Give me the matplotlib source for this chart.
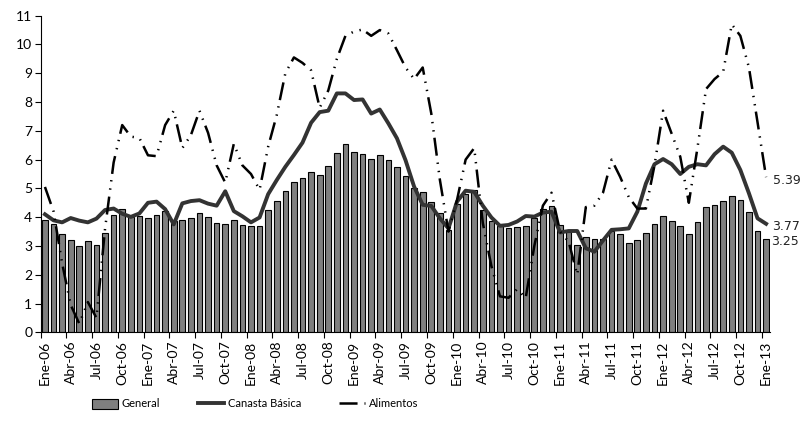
import numpy as np
import matplotlib
matplotlib.use("Agg")
import matplotlib.pyplot as plt
from matplotlib.patches import Patch
from matplotlib.lines import Line2D

plt.rcParams['font.family'] = ['Lato', 'DejaVu Sans']
plt.rcParams['lines.scale_dashes'] = False

# Monthly series, Ene-06 .. Ene-13 (85 months)
general = [3.90, 3.75, 3.40, 3.21, 3.00, 3.16, 3.03, 3.44, 4.07, 4.28,
           4.02, 4.04, 3.96, 4.07, 4.20, 3.85, 3.91, 3.96, 4.13, 3.99,
           3.80, 3.75, 3.90, 3.74, 3.69, 3.69, 4.25, 4.55, 4.92, 5.21,
           5.37, 5.56, 5.47, 5.78, 6.23, 6.53, 6.27, 6.19, 6.02, 6.15,
           5.97, 5.73, 5.43, 5.02, 4.88, 4.51, 4.13, 3.55, 4.46, 4.79,
           4.94, 4.25, 3.87, 3.68, 3.61, 3.65, 3.69, 3.96, 4.27, 4.39,
           3.73, 3.50, 3.02, 3.32, 3.23, 3.23, 3.53, 3.40, 3.11, 3.21,
           3.44, 3.78, 4.04, 3.87, 3.69, 3.40, 3.82, 4.34, 4.41, 4.55,
           4.75, 4.58, 4.17, 3.53, 3.25]

canasta = [4.10, 3.89, 3.82, 3.97, 3.88, 3.82, 3.95, 4.25, 4.30, 4.12,
           4.01, 4.13, 4.50, 4.54, 4.28, 3.75, 4.48, 4.56, 4.59, 4.47,
           4.40, 4.90, 4.21, 4.03, 3.82, 3.99, 4.80, 5.29, 5.75, 6.16,
           6.59, 7.28, 7.65, 7.70, 8.30, 8.30, 8.07, 8.09, 7.60, 7.74,
           7.26, 6.74, 5.98, 5.06, 4.43, 4.39, 3.96, 3.61, 4.54, 4.92,
           4.88, 4.40, 3.99, 3.70, 3.73, 3.85, 4.04, 4.02, 4.16, 4.19,
           3.47, 3.52, 3.52, 2.92, 2.80, 3.19, 3.56, 3.58, 3.61, 4.19,
           5.17, 5.84, 6.02, 5.84, 5.50, 5.75, 5.84, 5.80, 6.19, 6.45,
           6.24, 5.64, 4.83, 3.96, 3.77]

alimentos = [5.05, 4.20, 2.40, 0.95, 0.30, 1.05, 0.50, 3.60, 5.90, 7.20,
             6.80, 6.75, 6.15, 6.12, 7.20, 7.70, 6.40, 6.85, 7.70, 6.93,
             5.80, 5.20, 6.55, 5.80, 5.50, 4.95, 6.45, 7.55, 9.00, 9.55,
             9.36, 9.10, 7.80, 8.40, 9.50, 10.30, 10.45, 10.52, 10.30, 10.50,
             10.38, 9.80, 9.20, 8.80, 9.20, 7.60, 5.30, 3.50, 4.60, 6.00,
             6.40, 3.80, 2.30, 1.25, 1.20, 1.50, 1.20, 3.00, 4.40, 4.85,
             3.50, 3.15, 2.00, 4.35, 4.40, 4.85, 6.00, 5.40, 4.70, 4.30,
             4.30, 5.80, 7.70, 6.90, 6.10, 4.50, 6.40, 8.45, 8.80, 9.05,
             10.70, 10.30, 9.20, 7.30, 5.39]

meses = ['Ene', 'Feb', 'Mar', 'Abr', 'May', 'Jun', 'Jul', 'Ago', 'Sep', 'Oct', 'Nov', 'Dic']
etiquetas = [f"{meses[i % 12]}-{6 + i // 12:02d}" for i in range(len(general))]

x = np.arange(len(general))

fig = plt.figure(figsize=(8.02, 4.23), dpi=100)
ax = fig.add_axes([0.0507, 0.2144, 0.9099, 0.7485])

ax.bar(x, general, width=0.66, color='#7f7f7f', edgecolor='black', linewidth=0.8,
       label='General', zorder=2)
ax.plot(x, canasta, color='#333333', linewidth=2.8, label='Canasta Básica', zorder=3)
ax.plot(x, alimentos, color='black', linewidth=1.8,
        linestyle=(0, (13, 5, 1, 5, 1, 4.5)), dash_capstyle='butt',
        label='Alimentos', zorder=4)

ax.set_xlim(-0.5, len(general) - 0.5)
ax.set_ylim(0, 11)
ax.set_yticks(range(0, 12))
ax.tick_params(axis='y', labelsize=10, length=4, width=0.8, direction='out', pad=2)

ax.set_xticks(x[::3])
ax.set_xticklabels(etiquetas[::3], rotation=90, fontsize=10)
ax.set_xticks(np.arange(-0.5, len(general), 3), minor=True)
ax.tick_params(axis='x', which='major', length=0, pad=6)
ax.tick_params(axis='x', which='minor', length=4, width=0.8, direction='out')

for s in ['top', 'right']:
    ax.spines[s].set_visible(False)
for s in ['left', 'bottom']:
    ax.spines[s].set_linewidth(0.8)

# end values
etiq = dict(fontsize=9, va='center', ha='left', family='DejaVu Sans',
            color='#222222', clip_on=False)
ax.text(84.75, alimentos[-1] - 0.1, '5.39', **etiq)
ax.text(84.75, canasta[-1] - 0.1, '3.77', **etiq)
ax.text(84.6, general[-1] - 0.1, '3.25', **etiq)

handles = [Patch(facecolor='#7f7f7f', edgecolor='black', linewidth=0.8),
           Line2D([], [], color='#333333', linewidth=2.8),
           Line2D([], [], color='black', linewidth=1.8,
                  linestyle=(0, (13, 5, 1, 5, 1, 4.5)), dash_capstyle='butt')]
fig.legend(handles, ['General', 'Canasta Básica', 'Alimentos'], loc='center',
           bbox_to_anchor=(0.318, 0.045), ncol=3, frameon=False, fontsize=8,
           handlelength=2.35, handletextpad=0.35, columnspacing=3.4, handleheight=1.0)

fig.savefig('out.png', dpi=100)
